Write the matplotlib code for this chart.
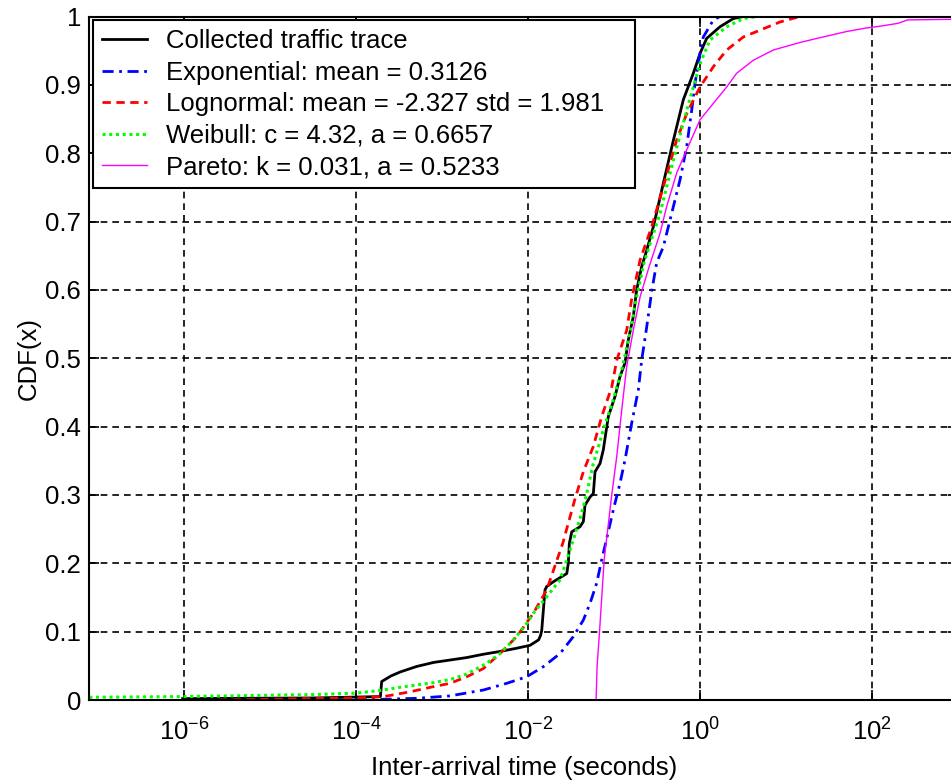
import numpy as np
import matplotlib
matplotlib.use("Agg")
import matplotlib.pyplot as plt

plt.rcParams["font.family"] = ["Liberation Sans", "DejaVu Sans"]
plt.rcParams["mathtext.default"] = "regular"

# values: log10(seconds) and CDF
trace_logx = [-6.02, -4.5, -3.72, -3.705, -3.60, -3.49, -3.30, -3.10, -2.91, -2.72, -2.52,
              -2.33, -2.14, -1.98, -1.88, -1.856, -1.844, -1.806, -1.786, -1.709, -1.553,
              -1.535, -1.523, -1.495, -1.399, -1.360, -1.341, -1.282, -1.244, -1.224, -1.166,
              -1.128, -1.070, -0.992, -0.934, -0.876, -0.837, -0.779, -0.740, -0.682, -0.623,
              -0.546, -0.430, -0.313, -0.198, -0.081, -0.003, 0.074, 0.229, 0.384, 0.50]
trace_cdf = [0.002, 0.003, 0.005, 0.027, 0.035, 0.041, 0.049, 0.055, 0.0585, 0.062, 0.067,
             0.071, 0.0756, 0.080, 0.088, 0.095, 0.102, 0.161, 0.166, 0.173, 0.185,
             0.200, 0.229, 0.246, 0.2535, 0.261, 0.285, 0.297, 0.302, 0.334, 0.346,
             0.366, 0.4145, 0.444, 0.473, 0.493, 0.527, 0.561, 0.600, 0.634, 0.658,
             0.6925, 0.756, 0.819, 0.878, 0.917, 0.946, 0.968, 0.985, 0.997, 1.0]

expo_logx = [-4.3, -3.7, -3.298, -2.910, -2.523, -2.251, -2.019, -1.826, -1.631, -1.477,
             -1.360, -1.282, -1.205, -1.147, -1.10, -1.012, -0.934, -0.876, -0.798, -0.721,
             -0.682, -0.623, -0.565, -0.507, -0.430, -0.313, -0.236, -0.158, -0.100, -0.062,
             -0.003, 0.035, 0.152, 0.229, 0.35]
expo_cdf = [0.0, 0.001, 0.0025, 0.006, 0.0146, 0.0244, 0.034, 0.0487, 0.068, 0.0927,
            0.117, 0.1415, 0.171, 0.205, 0.23, 0.278, 0.317, 0.351, 0.405, 0.4535,
            0.497, 0.546, 0.598, 0.64, 0.663, 0.722, 0.761, 0.81, 0.863, 0.902,
            0.946, 0.970, 0.995, 1.0, 1.0]

logn_logx = [-5.6, -4.6, -4.0, -3.686, -3.375, -3.105, -2.910, -2.716, -2.523, -2.329,
             -2.135, -1.941, -1.786, -1.680, -1.60, -1.46, -1.36, -1.244, -1.147, -1.030,
             -0.972, -0.856, -0.80, -0.70, -0.565, -0.430, -0.275, -0.158, -0.003, 0.152,
             0.307, 0.500, 0.694, 0.927, 1.159, 2.3]
logn_cdf = [0.0, 0.002, 0.003, 0.0049, 0.012, 0.0195, 0.0244, 0.034, 0.046, 0.068,
            0.0927, 0.127, 0.161, 0.200, 0.229, 0.293, 0.334, 0.371, 0.4145, 0.458,
            0.497, 0.541, 0.585, 0.644, 0.6925, 0.751, 0.819, 0.858, 0.897, 0.9266,
            0.951, 0.970, 0.980, 0.992, 1.0, 1.0]

weib_logx = [-7.105, -6.0, -5.0, -4.5, -4.0, -3.686, -3.492, -3.298, -3.105, -2.910,
             -2.716, -2.484, -2.329, -2.174, -2.019, -1.941, -1.786, -1.631, -1.553, -1.50,
             -1.40, -1.33, -1.25, -1.128, -1.012, -0.914, -0.817, -0.74, -0.65, -0.468,
             -0.313, -0.158, -0.003, 0.113, 0.307, 0.50, 0.656]
weib_cdf = [0.004, 0.005, 0.007, 0.008, 0.010, 0.0146, 0.0186, 0.022, 0.0253, 0.030,
            0.038, 0.0537, 0.068, 0.0878, 0.112, 0.127, 0.151, 0.1756, 0.205, 0.225,
            0.265, 0.297, 0.343, 0.395, 0.439, 0.483, 0.5365, 0.590, 0.642, 0.712,
            0.790, 0.863, 0.931, 0.9656, 0.985, 0.997, 1.0]

pareto_logx = [-1.212, -1.200, -1.172, -1.118, -1.030, -0.972, -0.914, -0.856, -0.779, -0.70,
               -0.60, -0.468, -0.391, -0.275, -0.158, -0.003, 0.152, 0.307, 0.423, 0.616,
               0.849, 1.159, 1.392, 1.7, 1.92, 2.1, 2.3, 2.41, 3.0]
pareto_cdf = [0.0, 0.05, 0.10, 0.205, 0.300, 0.356, 0.424, 0.488, 0.541, 0.590,
              0.632, 0.683, 0.722, 0.771, 0.805, 0.849, 0.873, 0.897, 0.917, 0.936,
              0.951, 0.962, 0.969, 0.978, 0.983, 0.986, 0.990, 0.995, 0.996]

labels = ["Collected traffic trace",
          "Exponential: mean = 0.3126",
          "Lognormal: mean = -2.327 std = 1.981",
          "Weibull: c = 4.32, a = 0.6657",
          "Pareto: k = 0.031, a = 0.5233"]

fig = plt.figure(figsize=(9.51, 7.84), dpi=100)
ax = fig.add_axes([89.3 / 951, 84 / 784, 869 / 951, 683.5 / 784])

ax.plot(10 ** np.array(trace_logx), trace_cdf, color="k", lw=2.0, label=labels[0])
ax.plot(10 ** np.array(expo_logx), expo_cdf, color="#0000ff", lw=2.0,
        linestyle=(0, (4, 2, 1, 2)), label=labels[1])
ax.plot(10 ** np.array(logn_logx), logn_cdf, color="#ff0000", lw=2.0,
        linestyle=(0, (3, 2)), label=labels[2])
ax.plot(10 ** np.array(weib_logx), weib_cdf, color="#00ff00", lw=2.2,
        linestyle=(0, (1, 1.2)), label=labels[3])
ax.plot(10 ** np.array(pareto_logx), pareto_cdf, color="#ff00ff", lw=1.0, label=labels[4])

ax.set_xscale("log")
ax.set_xlim(10 ** -7.105, 10 ** 3)
ax.set_ylim(0, 1)

ax.set_xticks([1e-6, 1e-4, 1e-2, 1e0, 1e2])
ax.set_xticklabels([r"$10^{-6}$", r"$10^{-4}$", r"$10^{-2}$", r"$10^{0}$", r"$10^{2}$"])
ax.xaxis.set_minor_locator(matplotlib.ticker.NullLocator())
ax.set_yticks(np.arange(0, 1.01, 0.1))
ax.set_yticklabels(["0", "0.1", "0.2", "0.3", "0.4", "0.5", "0.6", "0.7", "0.8", "0.9", "1"])

ax.tick_params(direction="in", length=7, width=1.2, labelsize=18.5, top=True, right=True)
ax.tick_params(axis="x", pad=13)
ax.tick_params(axis="y", pad=6)
ax.grid(True, color="k", linestyle=(0, (4, 3)), linewidth=1.2)
for s in ax.spines.values():
    s.set_linewidth(1.5)

ax.set_xlabel("Inter-arrival time (seconds)", fontsize=18.5, labelpad=8)
ax.set_ylabel("CDF(x)", fontsize=18.5, labelpad=3)

leg = ax.legend(loc="upper left", mode="expand",
                bbox_to_anchor=(93 / 951, 1 - 190 / 784, 542 / 951, 170 / 784),
                bbox_transform=fig.transFigure, borderaxespad=0, fontsize=18.5,
                fancybox=False, framealpha=1, edgecolor="k", handlelength=1.75,
                handletextpad=0.75, labelspacing=0.29, borderpad=0.36)
leg.get_frame().set_linewidth(1.5)

fig.savefig("out.png", dpi=100)
